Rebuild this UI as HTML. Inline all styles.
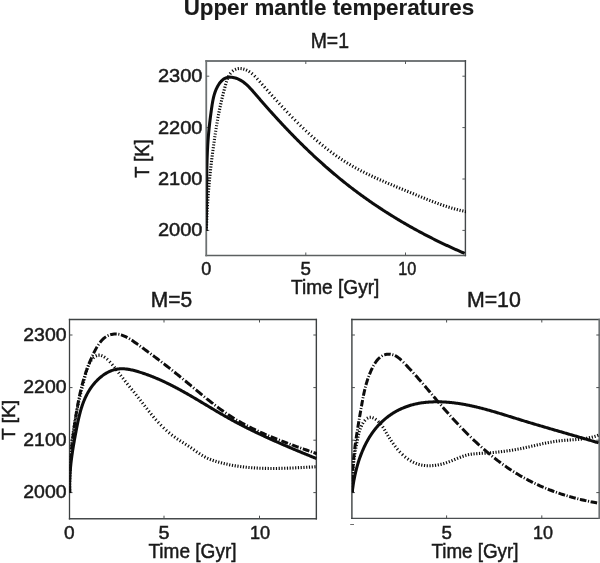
<!DOCTYPE html>
<html lang="en"><head><meta charset="utf-8"><title>Upper mantle temperatures</title>
<style>html,body{margin:0;padding:0;background:#fff;}body{width:600px;height:563px;overflow:hidden;}svg{display:block;}text{font-family:"Liberation Sans",Arial,Helvetica,sans-serif;fill:#1a1a1a;stroke:#1a1a1a;stroke-width:0.5px;}</style>
</head><body>
<svg width="600" height="563" viewBox="0 0 600 563">
<rect width="600" height="563" fill="#ffffff"/>
<g fill="none" stroke-linecap="butt">
<path d="M205.35,61.0H466.10" stroke="#74787a" stroke-width="1.8"/>
<path d="M205.35,255.5H466.10" stroke="#5c6061" stroke-width="1.6"/>
<path d="M206.25,60.10V256.30" stroke="#6d7172" stroke-width="1.8"/>
<path d="M465.4,60.10V256.30" stroke="#44484a" stroke-width="1.4"/>
<path d="M305.8,255.5v-3.0M305.8,61.0v3.0M405.5,255.5v-3.0M405.5,61.0v3.0M206.25,76.2h3.0M465.4,76.2h-3.0M206.25,127.6h3.0M465.4,127.6h-3.0M206.25,179.0h3.0M465.4,179.0h-3.0M206.25,230.4h3.0M465.4,230.4h-3.0" stroke="#55595a" stroke-width="1.0"/>
</g>
<g fill="none" stroke-linecap="butt">
<path d="M68.85,319.5H317.05" stroke="#3f4344" stroke-width="1.3"/>
<path d="M68.85,518.7H317.05" stroke="#45494a" stroke-width="1.6"/>
<path d="M69.5,318.85V519.50" stroke="#3c4041" stroke-width="1.3"/>
<path d="M316.35,318.85V519.50" stroke="#3c4041" stroke-width="1.4"/>
<path d="M164.0,518.7v-3.0M164.0,319.5v3.0M259.5,518.7v-3.0M259.5,319.5v3.0M69.5,335.0h3.0M316.35,335.0h-3.0M69.5,387.6h3.0M316.35,387.6h-3.0M69.5,440.2h3.0M316.35,440.2h-3.0M69.5,492.6h3.0M316.35,492.6h-3.0" stroke="#4a4e4f" stroke-width="1.0"/>
</g>
<g fill="none" stroke-linecap="butt">
<path d="M351.20,319.5H600.20" stroke="#3f4344" stroke-width="1.3"/>
<path d="M351.20,518.4H600.20" stroke="#4a4e50" stroke-width="1.4"/>
<path d="M351.9,318.85V519.10" stroke="#3c4041" stroke-width="1.4"/>
<path d="M599.3,318.85V519.10" stroke="#6c7173" stroke-width="1.8"/>
<path d="M446.6,518.4v-3.0M446.6,319.5v3.0M541.8,518.4v-3.0M541.8,319.5v3.0M351.9,335.0h3.0M599.3,335.0h-3.0M351.9,387.6h3.0M599.3,387.6h-3.0M351.9,440.2h3.0M599.3,440.2h-3.0M351.9,492.6h3.0M599.3,492.6h-3.0" stroke="#4a4e4f" stroke-width="1.0"/>
</g>
<path d="M350.2,524.5h3.8" stroke="#6e6e6e" stroke-width="1"/>
<defs>
<clipPath id="ct"><rect x="206.25" y="61.0" width="259.75" height="195.10"/></clipPath>
<clipPath id="cl"><rect x="69.5" y="319.5" width="247.45" height="199.20"/></clipPath>
<clipPath id="cr"><rect x="351.9" y="319.5" width="248.00" height="198.90"/></clipPath>
</defs>
<path d="M204.85,230.20l3.10,0.08M204.92,227.45l3.10,0.09M205.01,224.69l3.10,0.10M205.10,221.93l3.10,0.12M205.21,219.18l3.10,0.13M205.33,216.42l3.10,0.14M205.46,213.66l3.10,0.15M205.61,210.91l3.10,0.17M205.76,208.15l3.09,0.18M205.93,205.39l3.09,0.19M206.10,202.64l3.09,0.20M206.29,199.88l3.09,0.21M206.48,197.13l3.09,0.23M206.69,194.37l3.09,0.24M206.91,191.61l3.09,0.25M207.14,188.86l3.09,0.26M207.38,186.10l3.09,0.27M207.62,183.35l3.09,0.28M207.88,180.59l3.09,0.29M208.15,177.84l3.08,0.30M208.43,175.08l3.08,0.32M208.71,172.33l3.08,0.33M209.01,169.57l3.08,0.34M209.31,166.82l3.08,0.35M209.63,164.06l3.08,0.36M209.96,161.31l3.08,0.37M210.29,158.55l3.08,0.38M210.63,155.80l3.08,0.39M210.99,153.04l3.07,0.40M211.35,150.28l3.07,0.41M211.72,147.53l3.07,0.42M212.10,144.77l3.07,0.43M212.49,142.02l3.07,0.44M212.89,139.26l3.07,0.45M213.30,136.51l3.07,0.46M213.72,133.75l3.06,0.47M214.15,131.00l3.06,0.48M214.59,128.24l3.06,0.50M215.04,125.48l3.06,0.51M215.51,122.73l3.05,0.53M215.99,119.97l3.05,0.54M216.49,117.21l3.05,0.56M217.01,114.45l3.04,0.58M217.55,111.69l3.04,0.60M218.11,108.93l3.04,0.63M218.69,106.17l3.03,0.65M219.29,103.40l3.03,0.67M219.91,100.64l3.02,0.70M220.56,97.88l3.02,0.72M221.24,95.12l3.01,0.75M221.93,92.35l3.00,0.77M222.66,89.59l3.00,0.80M223.41,86.83l2.99,0.82M224.18,84.06l2.98,0.86M225.02,81.27l2.95,0.94M226.01,78.43l2.89,1.11M227.27,75.54l2.77,1.39M229.06,72.57l2.49,1.84M231.88,69.66l1.90,2.45M235.00,67.86l1.17,2.87M238.13,67.03l0.41,3.07M241.23,66.99l-0.31,3.08M244.26,67.59l-0.86,2.98M247.23,68.71l-1.30,2.81M250.17,70.33l-1.68,2.61M253.07,72.48l-1.99,2.38M255.93,75.12l-2.20,2.18M258.56,77.92l-2.31,2.07M261.00,80.69l-2.33,2.05M263.42,83.44l-2.33,2.05M265.84,86.18l-2.32,2.05M268.27,88.93l-2.32,2.05M270.71,91.68l-2.32,2.06M273.15,94.43l-2.31,2.07M275.62,97.17l-2.30,2.07M278.10,99.92l-2.30,2.08M280.60,102.66l-2.29,2.09M283.12,105.41l-2.28,2.10M285.67,108.15l-2.27,2.12M288.24,110.89l-2.25,2.13M290.85,113.64l-2.24,2.14M293.50,116.38l-2.22,2.16M296.18,119.12l-2.21,2.18M298.91,121.86l-2.19,2.20M301.65,124.56l-2.17,2.22M304.39,127.21l-2.14,2.24M307.13,129.81l-2.12,2.26M309.87,132.35l-2.10,2.28M312.61,134.84l-2.07,2.31M315.34,137.27l-2.04,2.33M318.08,139.64l-2.02,2.36M320.81,141.95l-1.99,2.38M323.55,144.20l-1.95,2.41M326.28,146.39l-1.92,2.43M329.01,148.52l-1.89,2.46M331.75,150.59l-1.85,2.48M334.48,152.60l-1.82,2.51M337.21,154.54l-1.78,2.54M339.94,156.43l-1.74,2.56M342.67,158.26l-1.70,2.59M345.40,160.02l-1.66,2.62M348.13,161.73l-1.62,2.64M350.86,163.37l-1.58,2.67M353.59,164.96l-1.54,2.69M356.32,166.49l-1.50,2.71M359.05,167.98l-1.46,2.73M361.78,169.42l-1.43,2.75M364.52,170.82l-1.40,2.77M367.25,172.19l-1.37,2.78M369.99,173.52l-1.34,2.79M372.73,174.82l-1.32,2.81M375.47,176.09l-1.29,2.82M378.21,177.34l-1.27,2.83M380.95,178.56l-1.26,2.83M383.69,179.76l-1.24,2.84M386.43,180.95l-1.22,2.85M389.18,182.12l-1.21,2.85M391.92,183.28l-1.20,2.86M394.67,184.43l-1.19,2.86M397.41,185.57l-1.18,2.86M400.16,186.70l-1.18,2.87M402.91,187.83l-1.18,2.87M405.66,188.96l-1.18,2.87M408.41,190.08l-1.18,2.87M411.16,191.21l-1.18,2.87M413.91,192.34l-1.18,2.87M416.66,193.48l-1.18,2.87M419.41,194.61l-1.17,2.87M422.15,195.73l-1.17,2.87M424.90,196.83l-1.16,2.88M427.64,197.93l-1.14,2.88M430.38,199.01l-1.12,2.89M433.12,200.06l-1.10,2.90M435.86,201.09l-1.08,2.91M438.60,202.09l-1.05,2.92M441.33,203.06l-1.02,2.93M444.06,204.00l-0.99,2.94M446.80,204.90l-0.95,2.95M449.53,205.76l-0.91,2.96M452.26,206.58l-0.87,2.97M454.98,207.36l-0.83,2.99M457.71,208.09l-0.78,3.00M460.44,208.78l-0.73,3.01M463.16,209.42l-0.68,3.02M465.89,210.01l-0.64,3.03" fill="none" stroke="#0d0d0d" stroke-width="1.2" clip-path="url(#ct)"/>
<path d="M206.10,230.27 L206.14,229.13 L206.17,227.99 L206.21,226.84 L206.24,225.70 L206.27,224.56 L206.30,223.42 L206.32,222.27 L206.35,221.13 L206.37,219.98 L206.39,218.84 L206.41,217.69 L206.43,216.54 L206.45,215.40 L206.46,214.25 L206.48,213.10 L206.49,211.95 L206.51,210.80 L206.52,209.65 L206.53,208.50 L206.54,207.35 L206.55,206.20 L206.55,205.05 L206.56,203.90 L206.57,202.74 L206.58,201.59 L206.58,200.44 L206.59,199.29 L206.59,198.13 L206.60,196.98 L206.60,195.83 L206.61,194.67 L206.61,193.52 L206.62,192.36 L206.62,191.21 L206.63,190.06 L206.64,188.90 L206.64,187.75 L206.65,186.59 L206.66,185.44 L206.66,184.28 L206.67,183.13 L206.68,181.98 L206.69,180.82 L206.70,179.67 L206.71,178.51 L206.72,177.36 L206.74,176.20 L206.75,175.05 L206.77,173.90 L206.78,172.74 L206.80,171.59 L206.82,170.44 L206.84,169.28 L206.86,168.13 L206.89,166.98 L206.91,165.83 L206.94,164.68 L206.97,163.53 L207.00,162.38 L207.03,161.23 L207.07,160.08 L207.10,158.93 L207.14,157.78 L207.18,156.63 L207.23,155.48 L207.27,154.33 L207.32,153.19 L207.37,152.04 L207.42,150.89 L207.48,149.75 L207.54,148.60 L207.60,147.46 L207.66,146.32 L207.73,145.17 L207.80,144.03 L207.87,142.89 L207.95,141.75 L208.03,140.61 L208.11,139.47 L208.20,138.33 L208.29,137.20 L208.38,136.06 L208.47,134.93 L208.57,133.79 L208.68,132.66 L208.78,131.52 L208.89,130.39 L209.01,129.26 L209.12,128.12 L209.24,126.99 L209.36,125.86 L209.49,124.72 L209.62,123.59 L209.75,122.45 L209.88,121.32 L210.02,120.18 L210.16,119.04 L210.30,117.90 L210.45,116.76 L210.60,115.62 L210.75,114.48 L210.90,113.34 L211.06,112.19 L211.22,111.04 L211.38,109.89 L211.54,108.74 L211.71,107.59 L211.88,106.43 L212.05,105.27 L212.23,104.12 L212.43,102.96 L212.63,101.80 L212.84,100.65 L213.07,99.50 L213.32,98.35 L213.58,97.21 L213.87,96.08 L214.18,94.95 L214.51,93.83 L214.87,92.71 L215.25,91.61 L215.67,90.51 L216.12,89.43 L216.61,88.35 L217.12,87.29 L217.68,86.24 L218.28,85.21 L218.92,84.20 L219.59,83.23 L220.31,82.29 L221.07,81.41 L221.86,80.58 L222.70,79.82 L223.58,79.14 L224.50,78.55 L225.46,78.05 L226.46,77.66 L227.50,77.38 L228.57,77.20 L229.67,77.13 L230.78,77.15 L231.90,77.24 L233.02,77.41 L234.13,77.65 L235.21,77.94 L236.27,78.28 L237.31,78.66 L238.32,79.09 L239.31,79.57 L240.28,80.08 L241.22,80.63 L242.15,81.22 L243.06,81.85 L243.95,82.50 L244.82,83.19 L245.68,83.90 L246.53,84.64 L247.36,85.41 L248.19,86.20 L249.00,87.00 L249.80,87.83 L250.59,88.67 L251.38,89.52 L252.16,90.39 L252.93,91.26 L253.70,92.14 L254.47,93.03 L255.23,93.92 L256.00,94.81 L256.76,95.70 L257.53,96.59 L258.29,97.48 L259.06,98.37 L259.82,99.26 L260.59,100.14 L261.36,101.02 L262.13,101.90 L262.90,102.79 L263.67,103.66 L264.44,104.54 L265.21,105.42 L265.98,106.29 L266.75,107.17 L267.53,108.04 L268.30,108.91 L269.07,109.78 L269.85,110.65 L270.62,111.51 L271.40,112.38 L272.18,113.24 L272.96,114.11 L273.74,114.97 L274.52,115.83 L275.30,116.68 L276.08,117.54 L276.86,118.39 L277.64,119.25 L278.43,120.10 L279.21,120.95 L280.00,121.80 L280.78,122.65 L281.57,123.49 L282.36,124.34 L283.15,125.18 L283.94,126.02 L284.73,126.86 L285.52,127.70 L286.32,128.54 L287.11,129.37 L287.91,130.21 L288.70,131.04 L289.50,131.87 L290.30,132.70 L291.10,133.52 L291.90,134.35 L292.70,135.17 L293.51,136.00 L294.31,136.82 L295.12,137.64 L295.92,138.46 L296.73,139.27 L297.54,140.09 L298.35,140.90 L299.16,141.71 L299.97,142.52 L300.79,143.33 L301.60,144.13 L302.42,144.94 L303.23,145.74 L304.05,146.54 L304.87,147.34 L305.69,148.14 L306.52,148.94 L307.34,149.73 L308.17,150.52 L308.99,151.32 L309.82,152.10 L310.65,152.89 L311.48,153.68 L312.32,154.46 L313.15,155.24 L313.98,156.03 L314.82,156.80 L315.66,157.58 L316.50,158.36 L317.34,159.13 L318.18,159.90 L319.03,160.67 L319.87,161.44 L320.72,162.21 L321.57,162.97 L322.42,163.73 L323.27,164.50 L324.12,165.25 L324.98,166.01 L325.84,166.77 L326.70,167.52 L327.56,168.27 L328.42,169.02 L329.28,169.77 L330.15,170.52 L331.01,171.26 L331.88,172.00 L332.75,172.74 L333.62,173.48 L334.50,174.22 L335.37,174.95 L336.25,175.69 L337.13,176.42 L338.01,177.15 L338.89,177.88 L339.78,178.60 L340.66,179.32 L341.55,180.05 L342.44,180.76 L343.34,181.48 L344.23,182.20 L345.12,182.91 L346.02,183.62 L346.92,184.33 L347.82,185.04 L348.73,185.75 L349.63,186.45 L350.54,187.15 L351.45,187.85 L352.36,188.55 L353.28,189.24 L354.19,189.94 L355.11,190.63 L356.03,191.32 L356.95,192.00 L357.87,192.69 L358.80,193.37 L359.72,194.05 L360.65,194.73 L361.58,195.41 L362.52,196.09 L363.45,196.76 L364.39,197.43 L365.32,198.10 L366.26,198.77 L367.21,199.43 L368.15,200.09 L369.09,200.75 L370.04,201.41 L370.99,202.07 L371.94,202.72 L372.89,203.38 L373.84,204.03 L374.80,204.67 L375.75,205.32 L376.71,205.96 L377.67,206.60 L378.63,207.24 L379.60,207.88 L380.56,208.52 L381.53,209.15 L382.49,209.78 L383.46,210.41 L384.43,211.03 L385.40,211.66 L386.38,212.28 L387.35,212.90 L388.33,213.52 L389.31,214.13 L390.29,214.75 L391.27,215.36 L392.25,215.97 L393.23,216.58 L394.22,217.18 L395.20,217.78 L396.19,218.38 L397.18,218.98 L398.17,219.58 L399.16,220.17 L400.15,220.76 L401.15,221.35 L402.14,221.94 L403.14,222.52 L404.14,223.11 L405.13,223.69 L406.13,224.26 L407.14,224.84 L408.14,225.41 L409.14,225.99 L410.15,226.55 L411.15,227.12 L412.16,227.69 L413.17,228.25 L414.18,228.81 L415.19,229.36 L416.20,229.92 L417.21,230.47 L418.22,231.02 L419.24,231.57 L420.25,232.12 L421.27,232.66 L422.29,233.20 L423.30,233.74 L424.32,234.28 L425.34,234.81 L426.36,235.35 L427.39,235.88 L428.41,236.40 L429.43,236.93 L430.46,237.45 L431.48,237.97 L432.51,238.49 L433.54,239.01 L434.56,239.52 L435.59,240.03 L436.62,240.54 L437.65,241.05 L438.68,241.55 L439.71,242.05 L440.75,242.55 L441.78,243.05 L442.81,243.54 L443.85,244.03 L444.88,244.52 L445.92,245.01 L446.96,245.50 L447.99,245.98 L449.03,246.46 L450.07,246.94 L451.11,247.41 L452.15,247.88 L453.19,248.35 L454.23,248.82 L455.27,249.29 L456.31,249.75 L457.35,250.21 L458.40,250.67 L459.44,251.12 L460.48,251.58 L461.53,252.03 L462.57,252.48 L463.62,252.92 L464.66,253.36" fill="none" stroke="#0d0d0d" stroke-width="3.05" stroke-linejoin="round" clip-path="url(#ct)"/>
<path d="M68.09,492.37l3.10,-0.01M68.09,489.61l3.10,0.00M68.10,486.86l3.10,0.02M68.12,484.10l3.10,0.04M68.17,481.34l3.10,0.06M68.22,478.58l3.10,0.07M68.30,475.82l3.10,0.09M68.39,473.06l3.10,0.11M68.49,470.30l3.10,0.13M68.61,467.54l3.10,0.15M68.75,464.78l3.10,0.16M68.91,462.02l3.09,0.18M69.08,459.26l3.09,0.20M69.27,456.51l3.09,0.22M69.48,453.75l3.09,0.24M69.70,450.99l3.09,0.26M69.95,448.23l3.09,0.28M70.21,445.47l3.09,0.30M70.49,442.70l3.08,0.32M70.79,439.94l3.08,0.34M71.11,437.18l3.08,0.37M71.45,434.42l3.08,0.39M71.80,431.66l3.07,0.41M72.18,428.90l3.07,0.43M72.59,426.14l3.07,0.46M73.01,423.38l3.06,0.48M73.45,420.61l3.06,0.51M73.92,417.85l3.05,0.53M74.42,415.09l3.05,0.56M74.93,412.33l3.04,0.58M75.47,409.56l3.04,0.61M76.04,406.80l3.03,0.64M76.63,404.03l3.03,0.66M77.25,401.27l3.02,0.69M77.90,398.51l3.02,0.72M78.57,395.75l3.01,0.74M79.26,392.99l3.01,0.76M79.95,390.23l3.00,0.76M80.66,387.48l3.00,0.77M81.36,384.73l3.00,0.77M82.06,381.98l3.00,0.76M82.76,379.24l3.01,0.75M83.44,376.49l3.01,0.74M84.13,373.74l3.00,0.76M84.86,370.95l2.99,0.84M85.71,368.13l2.95,0.96M86.74,365.29l2.88,1.16M88.06,362.40l2.75,1.43M89.86,359.46l2.52,1.81M92.47,356.49l2.08,2.30M95.62,354.36l1.29,2.82M99.01,353.58l0.01,3.10M102.32,354.23l-1.10,2.90M105.37,355.85l-1.72,2.58M108.29,358.13l-2.05,2.32M111.11,360.88l-2.26,2.12M113.58,363.70l-2.39,1.98M115.80,366.49l-2.45,1.90M117.91,369.26l-2.47,1.87M119.98,372.00l-2.46,1.88M122.10,374.74l-2.45,1.90M124.24,377.48l-2.44,1.92M126.41,380.23l-2.43,1.93M128.60,382.97l-2.42,1.94M130.81,385.72l-2.42,1.94M133.01,388.47l-2.42,1.94M135.21,391.22l-2.42,1.93M137.40,393.98l-2.43,1.92M139.56,396.74l-2.45,1.91M141.70,399.49l-2.45,1.90M143.82,402.24l-2.45,1.90M145.95,404.99l-2.45,1.90M148.09,407.73l-2.44,1.92M150.27,410.47l-2.42,1.94M152.48,413.21l-2.40,1.97M154.75,415.94l-2.37,2.00M157.10,418.67l-2.33,2.04M159.54,421.39l-2.28,2.10M162.11,424.11l-2.23,2.16M164.80,426.81l-2.16,2.23M167.51,429.35l-2.08,2.30M170.22,431.71l-1.99,2.38M172.92,433.88l-1.90,2.45M175.62,435.88l-1.79,2.53M178.33,437.73l-1.71,2.59M181.05,439.49l-1.66,2.62M183.79,441.22l-1.65,2.63M186.55,442.95l-1.66,2.62M189.33,444.75l-1.71,2.58M192.11,446.66l-1.78,2.54M194.87,448.62l-1.80,2.52M197.61,450.57l-1.78,2.54M200.33,452.43l-1.71,2.58M203.02,454.14l-1.60,2.66M205.69,455.64l-1.44,2.75M208.36,456.93l-1.27,2.83M211.03,458.05l-1.12,2.89M213.72,459.03l-1.00,2.93M216.42,459.91l-0.91,2.96M219.14,460.69l-0.83,2.99M221.86,461.42l-0.77,3.00M224.58,462.09l-0.71,3.02M227.30,462.71l-0.66,3.03M230.02,463.27l-0.60,3.04M232.75,463.79l-0.55,3.05M235.47,464.26l-0.50,3.06M238.20,464.68l-0.45,3.07M240.92,465.06l-0.40,3.07M243.65,465.40l-0.36,3.08M246.38,465.70l-0.32,3.08M249.11,465.96l-0.28,3.09M251.84,466.19l-0.24,3.09M254.57,466.38l-0.20,3.09M257.30,466.54l-0.16,3.10M260.04,466.67l-0.13,3.10M262.77,466.77l-0.10,3.10M265.50,466.84l-0.07,3.10M268.24,466.88l-0.04,3.10M270.98,466.91l-0.01,3.10M273.72,466.91l0.01,3.10M276.45,466.89l0.03,3.10M279.19,466.85l0.06,3.10M281.93,466.79l0.08,3.10M284.68,466.71l0.09,3.10M287.42,466.63l0.11,3.10M290.16,466.52l0.12,3.10M292.90,466.41l0.13,3.10M295.65,466.29l0.14,3.10M298.39,466.15l0.15,3.10M301.14,466.02l0.16,3.10M303.89,465.87l0.16,3.10M306.64,465.72l0.17,3.10M309.39,465.57l0.17,3.10M312.14,465.42l0.17,3.10M314.89,465.27l0.17,3.10" fill="none" stroke="#0d0d0d" stroke-width="1.2" clip-path="url(#cl)"/>
<g clip-path="url(#cl)" fill="none" stroke="#0d0d0d">
<path d="M69.67,492.38 L69.67,492.38 L69.64,491.03 L69.61,489.67 L69.58,488.31 L69.57,486.95 L69.56,485.88 M69.58,481.68 L69.58,481.51 L69.60,480.14 L69.62,478.78 L69.65,477.41 L69.69,476.05 L69.72,475.18 M69.88,470.98 L69.89,470.92 L69.95,469.55 L70.02,468.18 L70.10,466.81 L70.18,465.44 L70.24,464.48 M70.53,460.28 L70.56,459.96 L70.67,458.58 L70.78,457.21 L70.90,455.84 L71.02,454.47 L71.08,453.78 M71.48,449.58 L71.51,449.34 L71.65,447.97 L71.79,446.60 L71.94,445.23 L72.10,443.86 L72.18,443.08 M72.68,438.88 L72.70,438.74 L72.87,437.38 L73.04,436.01 L73.21,434.65 L73.39,433.29 L73.51,432.38 M74.08,428.18 L74.13,427.86 L74.32,426.50 L74.51,425.15 L74.71,423.80 L74.90,422.44 L75.02,421.68 M75.65,417.48 L75.66,417.39 L75.87,416.05 L76.08,414.70 L76.29,413.36 L76.51,412.02 L76.68,410.98 M77.40,406.78 L77.42,406.68 L77.66,405.35 L77.90,404.01 L78.15,402.68 L78.40,401.36 L78.61,400.28 M79.47,396.08 L79.47,396.05 L79.76,394.73 L80.05,393.41 L80.35,392.09 L80.65,390.77 L80.93,389.58 M81.99,385.38 L82.04,385.18 L82.39,383.86 L82.74,382.55 L83.11,381.24 L83.49,379.93 L83.79,378.88 M85.09,374.68 L85.19,374.38 L85.62,373.07 L86.06,371.77 L86.51,370.47 L86.97,369.17 L87.33,368.18 M88.93,363.98 L88.94,363.97 L89.46,362.67 L90.00,361.38 L90.55,360.08 L91.11,358.79 L91.68,357.49 L91.69,357.48 M93.66,353.28 L93.81,352.97 L94.45,351.68 L95.11,350.40 L95.78,349.13 L96.48,347.88 L97.12,346.78 M99.93,342.58 L100.13,342.32 L100.98,341.27 L101.87,340.27 L102.78,339.32 L103.74,338.44 L104.74,337.62 L105.77,336.88 L106.02,336.71 M110.22,334.76 L110.35,334.72 L111.60,334.41 L112.87,334.18 L114.15,334.05 L115.44,334.01 L116.72,334.06 M120.92,334.84 L121.16,334.91 L122.40,335.32 L123.65,335.79 L124.88,336.33 L126.11,336.92 L127.33,337.55 L127.42,337.61 M131.62,340.14 L131.84,340.28 L133.03,341.08 L134.21,341.89 L135.39,342.72 L136.56,343.55 L137.73,344.39 L138.12,344.67 M142.32,347.70 L142.34,347.72 L143.48,348.54 L144.61,349.37 L145.74,350.20 L146.87,351.02 L147.99,351.85 L148.82,352.46 M153.02,355.58 L153.27,355.76 L154.36,356.58 L155.46,357.41 L156.55,358.23 L157.64,359.05 L158.73,359.88 L159.52,360.48 M163.72,363.70 L163.84,363.79 L164.91,364.62 L165.98,365.45 L167.04,366.28 L168.11,367.11 L169.17,367.94 L170.22,368.77 M174.42,372.10 L174.45,372.12 L175.50,372.96 L176.55,373.81 L177.60,374.65 L178.65,375.50 L179.69,376.35 L180.74,377.21 L180.92,377.35 M185.12,380.81 L185.19,380.86 L186.23,381.73 L187.28,382.60 L188.33,383.47 L189.37,384.34 L190.42,385.22 L191.47,386.10 L191.62,386.22 M195.82,389.74 L195.93,389.83 L196.98,390.71 L198.04,391.59 L199.10,392.47 L200.15,393.34 L201.21,394.22 L202.27,395.09 L202.32,395.13 M206.52,398.55 L206.54,398.57 L207.61,399.43 L208.69,400.29 L209.76,401.15 L210.84,402.00 L211.93,402.85 L213.01,403.69 L213.02,403.70 M217.22,406.90 L217.39,407.02 L218.49,407.84 L219.60,408.65 L220.71,409.46 L221.82,410.26 L222.94,411.06 L223.72,411.61 M227.92,414.47 L228.02,414.54 L229.17,415.29 L230.31,416.04 L231.47,416.77 L232.62,417.50 L233.79,418.22 L234.42,418.61 M238.62,421.09 L238.77,421.18 L239.96,421.86 L241.15,422.53 L242.34,423.19 L243.54,423.85 L244.74,424.49 L245.12,424.70 M249.32,426.88 L249.58,427.01 L250.80,427.63 L252.03,428.24 L253.25,428.84 L254.48,429.43 L255.72,430.02 L255.82,430.07 M260.02,432.02 L260.05,432.04 L261.30,432.60 L262.55,433.16 L263.80,433.71 L265.05,434.26 L266.31,434.80 L266.52,434.89 M270.72,436.66 L270.72,436.66 L271.99,437.19 L273.26,437.71 L274.53,438.22 L275.80,438.73 L277.07,439.24 L277.22,439.29 M281.42,440.93 L281.54,440.98 L282.82,441.47 L284.10,441.96 L285.38,442.44 L286.67,442.92 L287.92,443.39 M292.12,444.93 L292.13,444.94 L293.42,445.40 L294.71,445.87 L295.99,446.33 L297.28,446.79 L298.57,447.26 L298.62,447.27 M302.82,448.76 L303.08,448.85 L304.37,449.31 L305.66,449.76 L306.95,450.21 L308.24,450.66 L309.32,451.04 M313.52,452.51 L313.71,452.58 L314.99,453.02 L316.27,453.47 L316.92,453.70" stroke-width="3.0"/>
<path d="M68.16,483.78l2.80,0.01M68.39,473.03l2.80,0.11M68.99,462.29l2.79,0.20M69.88,451.55l2.79,0.27M71.04,440.82l2.78,0.33M72.41,430.10l2.77,0.38M73.94,419.38l2.77,0.42M75.66,408.65l2.76,0.47M77.66,397.90l2.74,0.56M80.09,387.14l2.72,0.68M83.09,376.37l2.68,0.83M86.81,365.58l2.62,1.00M91.39,354.79l2.54,1.19M97.27,343.91l2.33,1.55M107.53,334.29l1.17,2.54M119.08,332.96l-0.51,2.75M130.25,337.62l-1.45,2.40M141.04,345.05l-1.64,2.27M151.75,352.89l-1.67,2.25M162.47,360.97l-1.70,2.22M173.19,369.33l-1.74,2.19M183.91,377.99l-1.78,2.16M194.62,386.91l-1.80,2.15M205.30,395.77l-1.77,2.17M215.97,404.20l-1.70,2.23M226.61,411.90l-1.58,2.31M237.23,418.66l-1.43,2.41M247.87,424.56l-1.29,2.48M258.51,429.79l-1.18,2.54M269.16,434.50l-1.09,2.58M279.83,438.81l-1.02,2.61M290.50,442.85l-0.97,2.63M301.19,446.70l-0.94,2.64M311.88,450.46l-0.92,2.64" stroke-width="1.1"/>
</g>
<path d="M69.76,492.42 L69.73,491.50 L69.70,490.58 L69.68,489.66 L69.66,488.74 L69.65,487.82 L69.64,486.91 L69.64,485.99 L69.64,485.08 L69.64,484.17 L69.65,483.26 L69.67,482.35 L69.69,481.44 L69.71,480.53 L69.74,479.62 L69.78,478.72 L69.81,477.81 L69.85,476.91 L69.90,476.01 L69.95,475.10 L70.00,474.20 L70.06,473.30 L70.12,472.40 L70.19,471.50 L70.25,470.61 L70.33,469.71 L70.40,468.81 L70.48,467.92 L70.57,467.02 L70.65,466.13 L70.74,465.23 L70.83,464.34 L70.93,463.45 L71.03,462.56 L71.13,461.67 L71.24,460.77 L71.35,459.88 L71.46,458.99 L71.57,458.10 L71.69,457.21 L71.81,456.33 L71.93,455.44 L72.06,454.55 L72.19,453.66 L72.32,452.77 L72.45,451.88 L72.58,451.00 L72.72,450.11 L72.86,449.22 L73.00,448.33 L73.14,447.45 L73.29,446.56 L73.44,445.67 L73.59,444.78 L73.74,443.90 L73.89,443.01 L74.05,442.12 L74.20,441.23 L74.36,440.35 L74.52,439.46 L74.68,438.57 L74.84,437.68 L75.01,436.79 L75.17,435.90 L75.34,435.01 L75.50,434.12 L75.67,433.23 L75.84,432.34 L76.01,431.45 L76.18,430.56 L76.35,429.67 L76.52,428.78 L76.70,427.88 L76.87,426.99 L77.05,426.09 L77.23,425.20 L77.41,424.31 L77.59,423.41 L77.77,422.52 L77.96,421.63 L78.15,420.74 L78.34,419.85 L78.54,418.96 L78.74,418.07 L78.95,417.18 L79.16,416.29 L79.37,415.41 L79.59,414.52 L79.82,413.64 L80.05,412.76 L80.28,411.88 L80.53,411.01 L80.78,410.14 L81.03,409.26 L81.29,408.40 L81.56,407.53 L81.84,406.67 L82.12,405.81 L82.42,404.95 L82.72,404.09 L83.02,403.24 L83.34,402.40 L83.67,401.55 L84.01,400.71 L84.35,399.88 L84.71,399.05 L85.07,398.22 L85.45,397.39 L85.83,396.58 L86.23,395.76 L86.64,394.95 L87.06,394.15 L87.49,393.35 L87.93,392.55 L88.39,391.76 L88.86,390.98 L89.34,390.20 L89.83,389.42 L90.34,388.66 L90.86,387.89 L91.40,387.14 L91.94,386.39 L92.50,385.66 L93.07,384.92 L93.65,384.20 L94.25,383.49 L94.85,382.79 L95.47,382.10 L96.10,381.42 L96.74,380.75 L97.39,380.10 L98.05,379.45 L98.72,378.82 L99.40,378.21 L100.09,377.61 L100.79,377.02 L101.50,376.45 L102.21,375.89 L102.94,375.36 L103.68,374.84 L104.42,374.33 L105.17,373.85 L105.94,373.38 L106.70,372.93 L107.48,372.50 L108.27,372.10 L109.06,371.71 L109.86,371.35 L110.66,371.00 L111.47,370.68 L112.29,370.38 L113.12,370.11 L113.95,369.86 L114.78,369.63 L115.63,369.43 L116.47,369.26 L117.33,369.11 L118.18,368.99 L119.05,368.89 L119.91,368.82 L120.78,368.78 L121.66,368.76 L122.54,368.77 L123.42,368.80 L124.30,368.85 L125.19,368.92 L126.08,369.01 L126.97,369.11 L127.86,369.24 L128.75,369.38 L129.65,369.54 L130.54,369.72 L131.44,369.91 L132.34,370.11 L133.23,370.32 L134.13,370.55 L135.02,370.78 L135.91,371.03 L136.81,371.28 L137.70,371.54 L138.58,371.80 L139.47,372.08 L140.35,372.35 L141.23,372.63 L142.11,372.92 L142.98,373.21 L143.85,373.50 L144.72,373.80 L145.59,374.10 L146.45,374.41 L147.32,374.72 L148.18,375.03 L149.03,375.35 L149.89,375.68 L150.74,376.00 L151.59,376.33 L152.44,376.67 L153.29,377.01 L154.13,377.35 L154.97,377.70 L155.81,378.05 L156.65,378.40 L157.48,378.75 L158.32,379.11 L159.15,379.48 L159.98,379.84 L160.81,380.21 L161.63,380.59 L162.46,380.96 L163.28,381.34 L164.10,381.73 L164.92,382.11 L165.73,382.50 L166.55,382.89 L167.36,383.28 L168.18,383.68 L168.99,384.08 L169.79,384.48 L170.60,384.89 L171.41,385.29 L172.21,385.70 L173.02,386.12 L173.82,386.53 L174.62,386.95 L175.42,387.37 L176.21,387.79 L177.01,388.21 L177.81,388.64 L178.60,389.07 L179.39,389.49 L180.19,389.93 L180.98,390.36 L181.77,390.80 L182.56,391.23 L183.34,391.67 L184.13,392.11 L184.92,392.55 L185.70,393.00 L186.49,393.44 L187.27,393.89 L188.05,394.34 L188.83,394.78 L189.62,395.24 L190.40,395.69 L191.18,396.14 L191.96,396.59 L192.73,397.05 L193.51,397.50 L194.29,397.96 L195.07,398.42 L195.84,398.88 L196.62,399.34 L197.40,399.80 L198.17,400.26 L198.95,400.72 L199.72,401.18 L200.50,401.64 L201.27,402.10 L202.05,402.57 L202.82,403.03 L203.59,403.49 L204.37,403.96 L205.14,404.42 L205.92,404.88 L206.69,405.35 L207.46,405.81 L208.24,406.28 L209.01,406.74 L209.79,407.20 L210.56,407.67 L211.34,408.13 L212.11,408.59 L212.89,409.05 L213.66,409.52 L214.44,409.98 L215.22,410.44 L215.99,410.90 L216.77,411.36 L217.55,411.82 L218.32,412.27 L219.10,412.73 L219.88,413.19 L220.66,413.64 L221.44,414.10 L222.22,414.55 L223.01,415.00 L223.79,415.45 L224.57,415.90 L225.36,416.35 L226.14,416.80 L226.93,417.24 L227.72,417.68 L228.50,418.13 L229.29,418.57 L230.08,419.01 L230.87,419.44 L231.66,419.88 L232.46,420.31 L233.25,420.75 L234.05,421.18 L234.84,421.61 L235.64,422.03 L236.44,422.46 L237.23,422.89 L238.03,423.31 L238.83,423.73 L239.64,424.15 L240.44,424.57 L241.24,424.99 L242.04,425.40 L242.85,425.82 L243.65,426.23 L244.46,426.64 L245.27,427.05 L246.07,427.46 L246.88,427.87 L247.69,428.27 L248.50,428.68 L249.31,429.08 L250.12,429.48 L250.94,429.88 L251.75,430.28 L252.56,430.68 L253.38,431.08 L254.19,431.47 L255.01,431.87 L255.82,432.26 L256.64,432.65 L257.46,433.04 L258.28,433.43 L259.10,433.82 L259.92,434.21 L260.74,434.59 L261.56,434.98 L262.38,435.36 L263.20,435.74 L264.02,436.12 L264.84,436.50 L265.67,436.88 L266.49,437.26 L267.31,437.64 L268.14,438.02 L268.96,438.39 L269.79,438.76 L270.61,439.14 L271.44,439.51 L272.27,439.88 L273.09,440.25 L273.92,440.62 L274.75,440.99 L275.58,441.36 L276.41,441.72 L277.23,442.09 L278.06,442.45 L278.89,442.82 L279.72,443.18 L280.55,443.54 L281.38,443.90 L282.21,444.26 L283.04,444.62 L283.88,444.98 L284.71,445.34 L285.54,445.70 L286.37,446.06 L287.20,446.41 L288.03,446.77 L288.87,447.12 L289.70,447.48 L290.53,447.83 L291.36,448.18 L292.20,448.54 L293.03,448.89 L293.86,449.24 L294.70,449.59 L295.53,449.94 L296.36,450.29 L297.19,450.64 L298.03,450.98 L298.86,451.33 L299.69,451.68 L300.53,452.02 L301.36,452.37 L302.19,452.72 L303.03,453.06 L303.86,453.40 L304.69,453.75 L305.53,454.09 L306.36,454.44 L307.19,454.78 L308.03,455.12 L308.86,455.46 L309.69,455.80 L310.52,456.15 L311.36,456.49 L312.19,456.83 L313.02,457.17 L313.85,457.51 L314.68,457.85 L315.52,458.19 L316.35,458.53" fill="none" stroke="#0d0d0d" stroke-width="3.05" stroke-linejoin="round" clip-path="url(#cl)"/>
<path d="M350.85,492.05l3.10,-0.09M350.78,489.28l3.10,-0.05M350.75,486.51l3.10,-0.01M350.76,483.74l3.10,0.03M350.80,480.97l3.10,0.07M350.89,478.19l3.10,0.12M351.01,475.42l3.10,0.16M351.17,472.65l3.09,0.20M351.38,469.88l3.09,0.25M351.62,467.11l3.09,0.29M351.90,464.33l3.08,0.33M352.22,461.56l3.08,0.38M352.58,458.80l3.07,0.41M352.97,456.03l3.07,0.45M353.39,453.26l3.06,0.49M353.85,450.49l3.06,0.52M354.33,447.73l3.05,0.54M354.83,444.97l3.05,0.57M355.36,442.21l3.04,0.59M355.90,439.45l3.04,0.61M356.48,436.67l3.03,0.66M357.13,433.88l3.01,0.75M357.89,431.06l2.97,0.89M358.84,428.22l2.91,1.07M360.03,425.35l2.81,1.31M361.56,422.45l2.66,1.60M363.65,419.50l2.36,2.01M366.71,416.80l1.59,2.66M370.21,415.73l0.10,3.10M373.57,416.36l-1.12,2.89M376.65,418.07l-1.80,2.53M379.60,420.58l-2.19,2.20M382.16,423.47l-2.43,1.92M384.22,426.32l-2.58,1.71M385.98,429.14l-2.66,1.59M387.59,431.91l-2.68,1.55M389.19,434.64l-2.66,1.59M390.85,437.36l-2.63,1.65M392.60,440.07l-2.58,1.72M394.47,442.78l-2.53,1.80M396.46,445.49l-2.46,1.89M398.62,448.19l-2.38,1.99M400.99,450.88l-2.27,2.11M403.61,453.53l-2.14,2.25M406.28,455.90l-1.97,2.39M408.94,457.93l-1.79,2.53M411.58,459.64l-1.57,2.67M414.21,461.05l-1.34,2.80M416.83,462.16l-1.08,2.91M419.45,462.99l-0.81,2.99M422.08,463.59l-0.56,3.05M424.71,463.97l-0.33,3.08M427.36,464.16l-0.12,3.10M430.01,464.18l0.07,3.10M432.67,464.04l0.25,3.09M435.34,463.76l0.41,3.07M438.01,463.33l0.57,3.05M440.69,462.76l0.71,3.02M443.37,462.06l0.85,2.98M446.05,461.23l0.98,2.94M448.74,460.26l1.10,2.90M451.46,459.19l1.18,2.87M454.19,458.05l1.20,2.86M456.95,456.89l1.18,2.87M459.74,455.78l1.11,2.89M462.55,454.76l0.99,2.94M465.38,453.89l0.82,2.99M468.23,453.20l0.62,3.04M471.07,452.71l0.46,3.07M473.88,452.35l0.33,3.08M476.67,452.09l0.24,3.09M479.45,451.90l0.19,3.09M482.21,451.74l0.17,3.10M484.95,451.58l0.19,3.09M487.69,451.40l0.22,3.09M490.42,451.20l0.25,3.09M493.16,450.97l0.28,3.09M495.89,450.71l0.31,3.08M498.62,450.42l0.34,3.08M501.36,450.10l0.37,3.08M504.09,449.76l0.40,3.07M506.83,449.38l0.44,3.07M509.56,448.98l0.47,3.06M512.29,448.54l0.50,3.06M515.03,448.08l0.54,3.05M517.76,447.58l0.57,3.05M520.49,447.06l0.60,3.04M523.23,446.50l0.63,3.03M525.96,445.91l0.66,3.03M528.71,445.31l0.68,3.03M531.45,444.69l0.69,3.02M534.20,444.06l0.69,3.02M536.95,443.43l0.68,3.02M539.71,442.82l0.67,3.03M542.47,442.21l0.65,3.03M545.23,441.64l0.62,3.04M548.00,441.09l0.58,3.04M550.78,440.58l0.54,3.05M553.55,440.11l0.49,3.06M556.33,439.69l0.43,3.07M559.11,439.34l0.36,3.08M561.90,439.04l0.30,3.09M564.67,438.80l0.25,3.09M567.43,438.59l0.22,3.09M570.19,438.39l0.21,3.09M572.94,438.20l0.22,3.09M575.67,438.00l0.24,3.09M578.40,437.77l0.29,3.09M581.12,437.49l0.35,3.08M583.83,437.15l0.42,3.07M586.53,436.73l0.52,3.06M589.23,436.23l0.63,3.03M591.91,435.60l0.77,3.00M594.59,434.85l0.91,2.96M597.26,433.95l1.07,2.91" fill="none" stroke="#0d0d0d" stroke-width="1.2" clip-path="url(#cr)"/>
<g clip-path="url(#cr)" fill="none" stroke="#0d0d0d">
<path d="M352.39,492.02 L352.39,492.02 L352.35,490.63 L352.32,489.24 L352.30,487.85 L352.29,486.46 L352.28,485.52 M352.31,481.32 L352.32,481.26 L352.34,479.87 L352.38,478.49 L352.42,477.11 L352.47,475.72 L352.50,474.82 M352.71,470.62 L352.72,470.55 L352.80,469.17 L352.89,467.79 L352.99,466.41 L353.09,465.04 L353.16,464.12 M353.52,459.92 L353.53,459.88 L353.66,458.51 L353.79,457.14 L353.93,455.76 L354.08,454.39 L354.19,453.42 M354.68,449.22 L354.72,448.91 L354.89,447.54 L355.06,446.18 L355.24,444.81 L355.42,443.44 L355.52,442.72 M356.12,438.52 L356.15,438.32 L356.35,436.96 L356.55,435.59 L356.76,434.23 L356.97,432.86 L357.10,432.02 M357.77,427.82 L357.78,427.75 L358.00,426.39 L358.23,425.03 L358.45,423.67 L358.68,422.31 L358.85,421.32 M359.57,417.12 L359.61,416.87 L359.85,415.51 L360.08,414.15 L360.32,412.79 L360.56,411.43 L360.70,410.62 M361.44,406.42 L361.46,406.34 L361.70,404.98 L361.94,403.63 L362.18,402.27 L362.43,400.91 L362.62,399.92 M363.43,395.72 L363.48,395.50 L363.76,394.14 L364.05,392.79 L364.34,391.45 L364.65,390.10 L364.86,389.22 M365.94,385.02 L366.02,384.73 L366.40,383.40 L366.80,382.06 L367.21,380.73 L367.65,379.40 L367.95,378.52 M369.50,374.32 L369.58,374.12 L370.12,372.81 L370.69,371.50 L371.28,370.19 L371.89,368.89 L372.42,367.82 M374.73,363.62 L374.83,363.45 L375.62,362.24 L376.44,361.08 L377.30,359.97 L378.21,358.94 L379.17,357.99 L380.02,357.27 M384.22,354.93 L384.42,354.87 L385.63,354.52 L386.86,354.28 L388.11,354.16 L389.36,354.14 L390.61,354.24 L390.72,354.26 M394.92,355.52 L395.17,355.64 L396.32,356.28 L397.45,357.01 L398.56,357.82 L399.64,358.71 L400.71,359.65 L401.42,360.32 M405.55,364.49 L405.58,364.52 L406.58,365.57 L407.57,366.62 L408.55,367.67 L409.53,368.71 L410.50,369.76 L411.46,370.81 L411.62,370.99 M415.41,375.19 L415.48,375.27 L416.41,376.31 L417.33,377.36 L418.25,378.41 L419.17,379.46 L420.08,380.51 L420.99,381.56 L421.10,381.69 M424.70,385.89 L424.81,386.01 L425.70,387.06 L426.59,388.11 L427.47,389.15 L428.36,390.20 L429.24,391.25 L430.12,392.29 L430.20,392.39 M433.74,396.59 L433.86,396.73 L434.73,397.77 L435.61,398.82 L436.49,399.86 L437.37,400.90 L438.26,401.94 L439.14,402.98 L439.23,403.09 M442.83,407.29 L442.91,407.39 L443.81,408.42 L444.70,409.46 L445.61,410.49 L446.51,411.52 L447.42,412.55 L448.33,413.58 L448.51,413.79 M452.28,417.99 L452.47,418.20 L453.40,419.22 L454.33,420.24 L455.27,421.25 L456.21,422.27 L457.15,423.28 L458.10,424.29 L458.28,424.49 M462.29,428.69 L462.40,428.80 L463.37,429.80 L464.34,430.79 L465.32,431.78 L466.29,432.77 L467.27,433.75 L468.26,434.73 L468.71,435.18 M472.91,439.26 L472.99,439.33 L474.00,440.29 L475.01,441.24 L476.02,442.19 L477.04,443.14 L478.07,444.08 L479.09,445.02 L479.41,445.31 M483.61,449.04 L483.76,449.17 L484.81,450.08 L485.86,450.99 L486.92,451.89 L487.98,452.78 L489.04,453.67 L490.11,454.55 M494.31,457.94 L494.43,458.03 L495.52,458.89 L496.61,459.73 L497.71,460.57 L498.81,461.41 L499.92,462.24 L500.81,462.90 M505.01,465.93 L505.24,466.09 L506.37,466.87 L507.50,467.66 L508.64,468.43 L509.79,469.20 L510.94,469.96 L511.51,470.34 M515.71,473.01 L515.87,473.11 L517.05,473.83 L518.23,474.54 L519.41,475.25 L520.60,475.94 L521.79,476.63 L522.21,476.87 M526.41,479.19 L526.60,479.29 L527.82,479.94 L529.03,480.57 L530.26,481.20 L531.49,481.82 L532.72,482.43 L532.91,482.53 M537.11,484.53 L537.37,484.65 L538.62,485.22 L539.88,485.79 L541.14,486.34 L542.40,486.89 L543.61,487.41 M547.81,489.13 L548.13,489.26 L549.41,489.77 L550.70,490.26 L551.98,490.75 L553.28,491.23 L554.31,491.61 M558.51,493.09 L558.80,493.19 L560.11,493.63 L561.42,494.07 L562.74,494.49 L564.05,494.91 L565.01,495.21 M569.21,496.47 L569.35,496.51 L570.68,496.89 L572.01,497.26 L573.35,497.63 L574.68,497.99 L575.71,498.26 M579.91,499.32 L580.05,499.35 L581.40,499.68 L582.75,499.99 L584.10,500.30 L585.45,500.61 L586.41,500.82 M590.61,501.69 L590.88,501.75 L592.24,502.01 L593.61,502.28 L594.97,502.53 L596.34,502.78 L597.11,502.92" stroke-width="3.0"/>
<path d="M350.89,483.41l2.80,0.02M351.20,472.65l2.80,0.14M351.94,461.90l2.79,0.24M353.04,451.16l2.78,0.33M354.43,440.42l2.77,0.39M356.05,429.70l2.77,0.44M357.83,418.98l2.76,0.47M359.69,408.28l2.76,0.49M361.64,397.55l2.75,0.53M364.03,386.77l2.71,0.70M367.38,375.93l2.63,0.97M372.29,365.05l2.46,1.34M381.45,354.64l1.34,2.46M393.22,353.36l-0.80,2.68M404.51,361.41l-2.00,1.96M414.57,372.15l-2.08,1.87M423.97,382.88l-2.13,1.82M433.04,393.59l-2.14,1.80M442.09,404.28l-2.13,1.82M451.43,414.95l-2.08,1.87M461.29,425.62l-2.03,1.93M471.79,436.23l-1.95,2.01M482.44,446.15l-1.86,2.09M493.09,455.17l-1.76,2.18M503.73,463.30l-1.64,2.27M514.36,470.51l-1.50,2.36M524.99,476.82l-1.35,2.45M535.61,482.28l-1.21,2.53M546.24,486.99l-1.06,2.59M556.88,491.04l-0.93,2.64M567.51,494.51l-0.80,2.68M578.15,497.44l-0.69,2.71M588.80,499.89l-0.57,2.74" stroke-width="1.1"/>
</g>
<path d="M352.25,492.26 L352.33,491.55 L352.41,490.84 L352.49,490.12 L352.57,489.40 L352.66,488.68 L352.76,487.95 L352.85,487.22 L352.95,486.49 L353.06,485.76 L353.16,485.03 L353.28,484.29 L353.39,483.55 L353.51,482.82 L353.63,482.07 L353.76,481.33 L353.89,480.59 L354.02,479.84 L354.16,479.10 L354.30,478.35 L354.45,477.60 L354.60,476.85 L354.75,476.10 L354.91,475.35 L355.07,474.60 L355.24,473.85 L355.41,473.10 L355.58,472.34 L355.76,471.59 L355.94,470.84 L356.13,470.08 L356.32,469.33 L356.51,468.58 L356.71,467.82 L356.92,467.07 L357.12,466.32 L357.34,465.57 L357.55,464.81 L357.77,464.06 L358.00,463.31 L358.23,462.56 L358.46,461.81 L358.70,461.07 L358.94,460.32 L359.19,459.58 L359.44,458.83 L359.70,458.09 L359.96,457.35 L360.23,456.61 L360.50,455.87 L360.77,455.13 L361.05,454.40 L361.34,453.67 L361.63,452.94 L361.92,452.21 L362.22,451.48 L362.52,450.76 L362.83,450.04 L363.14,449.32 L363.46,448.60 L363.79,447.89 L364.11,447.18 L364.45,446.47 L364.78,445.77 L365.13,445.06 L365.48,444.37 L365.83,443.67 L366.19,442.98 L366.55,442.29 L366.92,441.60 L367.29,440.92 L367.67,440.24 L368.06,439.57 L368.44,438.90 L368.84,438.23 L369.24,437.57 L369.64,436.91 L370.05,436.26 L370.47,435.61 L370.89,434.97 L371.32,434.33 L371.75,433.69 L372.19,433.06 L372.63,432.43 L373.08,431.81 L373.53,431.20 L373.99,430.58 L374.46,429.98 L374.93,429.38 L375.40,428.78 L375.88,428.19 L376.37,427.61 L376.86,427.03 L377.36,426.46 L377.87,425.89 L378.38,425.33 L378.89,424.77 L379.42,424.22 L379.94,423.68 L380.48,423.14 L381.01,422.61 L381.56,422.09 L382.11,421.57 L382.66,421.05 L383.22,420.55 L383.78,420.05 L384.35,419.55 L384.92,419.06 L385.50,418.58 L386.09,418.11 L386.68,417.64 L387.27,417.18 L387.87,416.72 L388.47,416.27 L389.08,415.83 L389.69,415.39 L390.31,414.96 L390.93,414.54 L391.55,414.12 L392.18,413.71 L392.81,413.31 L393.45,412.91 L394.09,412.52 L394.74,412.14 L395.39,411.76 L396.04,411.39 L396.70,411.03 L397.36,410.67 L398.03,410.32 L398.70,409.98 L399.37,409.65 L400.05,409.32 L400.73,409.00 L401.41,408.68 L402.10,408.38 L402.79,408.08 L403.48,407.79 L404.18,407.50 L404.88,407.23 L405.58,406.96 L406.28,406.69 L406.99,406.44 L407.71,406.19 L408.42,405.95 L409.14,405.72 L409.86,405.49 L410.58,405.27 L411.31,405.06 L412.03,404.86 L412.77,404.67 L413.50,404.48 L414.23,404.30 L414.97,404.12 L415.71,403.96 L416.45,403.80 L417.20,403.64 L417.94,403.50 L418.69,403.36 L419.44,403.22 L420.19,403.10 L420.94,402.98 L421.70,402.86 L422.45,402.75 L423.21,402.65 L423.97,402.56 L424.73,402.47 L425.49,402.39 L426.25,402.31 L427.02,402.24 L427.78,402.17 L428.54,402.11 L429.31,402.06 L430.07,402.01 L430.84,401.97 L431.61,401.93 L432.38,401.90 L433.14,401.87 L433.91,401.85 L434.68,401.83 L435.45,401.82 L436.22,401.81 L436.98,401.81 L437.75,401.81 L438.52,401.82 L439.29,401.83 L440.06,401.84 L440.82,401.86 L441.59,401.89 L442.36,401.92 L443.12,401.95 L443.89,401.99 L444.65,402.03 L445.42,402.08 L446.18,402.13 L446.95,402.18 L447.71,402.24 L448.47,402.31 L449.24,402.37 L450.00,402.44 L450.76,402.52 L451.52,402.60 L452.28,402.68 L453.04,402.76 L453.81,402.85 L454.57,402.95 L455.33,403.04 L456.09,403.14 L456.85,403.25 L457.60,403.35 L458.36,403.46 L459.12,403.58 L459.88,403.69 L460.64,403.82 L461.39,403.94 L462.15,404.07 L462.91,404.20 L463.66,404.33 L464.42,404.46 L465.18,404.60 L465.93,404.74 L466.69,404.89 L467.44,405.04 L468.19,405.19 L468.95,405.34 L469.70,405.50 L470.45,405.65 L471.21,405.81 L471.96,405.98 L472.71,406.14 L473.46,406.31 L474.22,406.48 L474.97,406.66 L475.72,406.83 L476.47,407.01 L477.22,407.19 L477.97,407.37 L478.72,407.55 L479.47,407.74 L480.22,407.93 L480.96,408.12 L481.71,408.31 L482.46,408.50 L483.21,408.70 L483.95,408.90 L484.70,409.10 L485.45,409.30 L486.19,409.50 L486.94,409.70 L487.69,409.91 L488.43,410.12 L489.18,410.32 L489.92,410.53 L490.67,410.75 L491.41,410.96 L492.15,411.17 L492.90,411.39 L493.64,411.60 L494.38,411.82 L495.12,412.04 L495.87,412.26 L496.61,412.48 L497.35,412.70 L498.09,412.92 L498.83,413.15 L499.57,413.37 L500.31,413.59 L501.05,413.82 L501.79,414.05 L502.53,414.27 L503.27,414.50 L504.01,414.73 L504.75,414.95 L505.49,415.18 L506.22,415.41 L506.96,415.64 L507.70,415.87 L508.44,416.10 L509.17,416.33 L509.91,416.56 L510.64,416.79 L511.38,417.02 L512.12,417.25 L512.85,417.48 L513.59,417.71 L514.32,417.94 L515.05,418.17 L515.79,418.40 L516.52,418.63 L517.26,418.86 L517.99,419.08 L518.72,419.31 L519.45,419.54 L520.19,419.76 L520.92,419.99 L521.65,420.22 L522.38,420.44 L523.11,420.67 L523.84,420.89 L524.57,421.11 L525.31,421.34 L526.04,421.56 L526.77,421.78 L527.50,422.00 L528.22,422.22 L528.95,422.44 L529.68,422.66 L530.41,422.88 L531.14,423.10 L531.87,423.32 L532.60,423.54 L533.33,423.76 L534.06,423.97 L534.78,424.19 L535.51,424.41 L536.24,424.62 L536.97,424.84 L537.69,425.05 L538.42,425.27 L539.15,425.48 L539.88,425.70 L540.60,425.91 L541.33,426.13 L542.06,426.34 L542.79,426.56 L543.51,426.77 L544.24,426.98 L544.97,427.19 L545.70,427.41 L546.42,427.62 L547.15,427.83 L547.88,428.04 L548.60,428.26 L549.33,428.47 L550.06,428.68 L550.79,428.89 L551.51,429.10 L552.24,429.31 L552.97,429.52 L553.70,429.74 L554.42,429.95 L555.15,430.16 L555.88,430.37 L556.61,430.58 L557.34,430.79 L558.06,431.00 L558.79,431.21 L559.52,431.42 L560.25,431.63 L560.98,431.84 L561.71,432.05 L562.44,432.26 L563.17,432.47 L563.90,432.68 L564.63,432.90 L565.36,433.11 L566.09,433.32 L566.82,433.53 L567.55,433.74 L568.28,433.95 L569.01,434.16 L569.74,434.37 L570.47,434.59 L571.20,434.80 L571.94,435.01 L572.67,435.22 L573.40,435.43 L574.14,435.65 L574.87,435.86 L575.60,436.07 L576.34,436.29 L577.07,436.50 L577.81,436.71 L578.54,436.93 L579.28,437.14 L580.01,437.36 L580.75,437.57 L581.49,437.79 L582.22,438.00 L582.96,438.22 L583.70,438.44 L584.44,438.65 L585.18,438.87 L585.92,439.09 L586.66,439.31 L587.40,439.52 L588.14,439.74 L588.88,439.96 L589.62,440.18 L590.36,440.40 L591.11,440.62 L591.85,440.84 L592.59,441.06 L593.34,441.28 L594.08,441.51 L594.83,441.73 L595.57,441.95 L596.32,442.18 L597.07,442.40 L597.81,442.63 L598.56,442.85" fill="none" stroke="#0d0d0d" stroke-width="3.05" stroke-linejoin="round" clip-path="url(#cr)"/>
<text transform="translate(183.70,15.00) scale(1.0454,1)" font-size="21.38" font-weight="bold" style="stroke-width:0.15px">Upper mantle temperatures</text>
<text transform="translate(310.70,47.80) scale(0.8841,1)" font-size="21.96" font-weight="normal">M=1</text>
<text transform="translate(150.70,307.00) scale(0.9556,1)" font-size="21.96" font-weight="normal">M=5</text>
<text transform="translate(466.90,307.00) scale(0.9718,1)" font-size="21.96" font-weight="normal">M=10</text>
<text transform="translate(157.90,82.40) scale(1.0592,1)" font-size="18.92" font-weight="normal">2300</text>
<text transform="translate(157.90,133.60) scale(1.0592,1)" font-size="18.92" font-weight="normal">2200</text>
<text transform="translate(157.90,184.80) scale(1.0592,1)" font-size="18.92" font-weight="normal">2100</text>
<text transform="translate(157.90,236.00) scale(1.0592,1)" font-size="18.92" font-weight="normal">2000</text>
<text transform="translate(23.30,340.80) scale(1.0283,1)" font-size="18.92" font-weight="normal">2300</text>
<text transform="translate(23.30,393.20) scale(1.0283,1)" font-size="18.92" font-weight="normal">2200</text>
<text transform="translate(23.30,445.60) scale(1.0283,1)" font-size="18.92" font-weight="normal">2100</text>
<text transform="translate(23.30,498.00) scale(1.0283,1)" font-size="18.92" font-weight="normal">2000</text>
<text transform="translate(201.30,274.60) scale(0.9818,1)" font-size="18.35" font-weight="normal">0</text>
<text transform="translate(300.40,274.60) scale(1.0211,1)" font-size="18.35" font-weight="normal">5</text>
<text transform="translate(398.20,274.60) scale(0.8817,1)" font-size="18.35" font-weight="normal">10</text>
<text transform="translate(291.00,293.80) scale(0.9796,1)" font-size="19.49" font-weight="normal">Time [Gyr]</text>
<text transform="translate(64.10,538.60) scale(1.0016,1)" font-size="19.07" font-weight="normal">0</text>
<text transform="translate(158.60,538.60) scale(1.0394,1)" font-size="19.07" font-weight="normal">5</text>
<text transform="translate(249.90,538.60) scale(0.9522,1)" font-size="19.07" font-weight="normal">10</text>
<text transform="translate(148.40,558.40) scale(0.9223,1)" font-size="20.65" font-weight="normal">Time [Gyr]</text>
<text transform="translate(441.40,538.60) scale(0.9827,1)" font-size="19.07" font-weight="normal">5</text>
<text transform="translate(533.00,538.60) scale(0.9428,1)" font-size="19.07" font-weight="normal">10</text>
<text transform="translate(431.40,558.40) scale(0.9118,1)" font-size="20.65" font-weight="normal">Time [Gyr]</text>
<text transform="translate(148.60,177.80) rotate(-90) scale(0.9277,1)" font-size="19.78">T [K]</text>
<text transform="translate(15.10,440.00) rotate(-90) scale(1.0160,1)" font-size="18.91">T [K]</text>
</svg>
</body></html>
